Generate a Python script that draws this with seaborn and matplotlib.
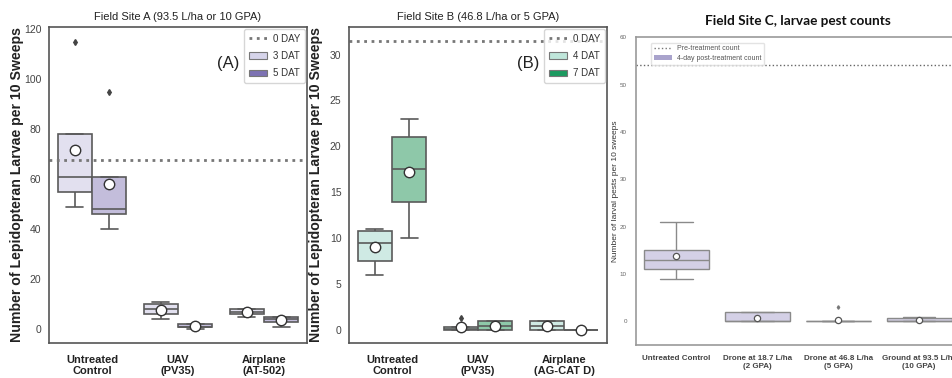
import numpy as np
import pandas as pd
import seaborn as sns
import matplotlib.pyplot as plt
from matplotlib.patches import Patch
from matplotlib.lines import Line2D

# ---------------- Datos ----------------
# Sitio A: conteos por tratamiento, 3 DAT y 5 DAT
trat_A = ['Untreated\nControl', 'UAV\n(PV35)', 'Airplane\n(AT-502)']
dias_A = ['3 DAT', '5 DAT']
a_3dat = [[49, 55, 61, 78, 115], [4, 6, 8, 10, 11], [5, 6, 7, 8, 8]]
a_5dat = [[40, 46, 48, 61, 95], [0, 1, 1, 2, 2], [1, 3, 4, 5, 5]]
dia0_A = 67.7

# Sitio B: 4 DAT y 7 DAT
trat_B = ['Untreated\nControl', 'UAV\n(PV35)', 'Airplane\n(AG-CAT D)']
dias_B = ['4 DAT', '7 DAT']
b_4dat = [[6, 7, 9, 10, 11, 11], [0, 0, 0, 0.3, 0.3, 1.3], [0, 0, 0, 1, 1, 1]]
b_7dat = [[10, 13, 17, 18, 22, 23], [0, 0, 0, 1, 1, 1], [0, 0, 0, 0, 0, 0]]
dia0_B = 31.45

# Sitio C: conteo 4 dias post-tratamiento
trat_C = ['Untreated Control', 'Drone at 18.7 L/ha\n(2 GPA)',
          'Drone at 46.8 L/ha\n(5 GPA)', 'Ground at 93.5 L/ha\n(10 GPA)']
c_4dia = [[9, 11, 13, 15, 21], [0, 0, 0, 0, 0, 0, 2, 2, 2],
          [0, 0, 0, 0, 0, 0, 0, 3], [0, 0, 0, 0, 1, 1]]
pre_C = 54.1


def largo(trats, dias, series):
    filas = []
    for dia, serie in zip(dias, series):
        for t, vals in zip(trats, serie):
            for v in vals:
                filas.append((t, dia, v))
    return pd.DataFrame(filas, columns=['trat', 'dia', 'valor'])


dfA = largo(trat_A, dias_A, [a_3dat, a_5dat])
dfB = largo(trat_B, dias_B, [b_4dat, b_7dat])
dfC = largo(trat_C, ['4-day'], [c_4dia])

sns.set_style('white')
narrow = ['Liberation Sans Narrow', 'Liberation Sans', 'DejaVu Sans']
plt.rcParams['font.family'] = ['Liberation Sans', 'DejaVu Sans']

fig = plt.figure(figsize=(9.52, 3.78), dpi=100)
axA = fig.add_axes([0.0515, 0.0926, 0.271, 0.836])
axB = fig.add_axes([0.3666, 0.0926, 0.271, 0.836])
axC = fig.add_axes([0.668, 0.0873, 0.340, 0.8135])

mean_big = dict(marker='o', markerfacecolor='white', markeredgecolor='#333333',
                markersize=7.5, markeredgewidth=1)
flier = dict(marker='d', markersize=3, markerfacecolor='#444444',
             markeredgecolor='#444444')

#------------ Paneles A y B -------------------------------------------
paneles = [(axA, dfA, trat_A, dias_A, ['#e2e0ef', '#c3bddb'], ['#d6d4ea', '#7d72b3'],
            dia0_A, (-5.5, 121), [0, 20, 40, 60, 80, 100, 120],
            'Field Site A (93.5 L/ha or 10 GPA)', '(A)', '0 DAY', -0.096),
           (axB, dfB, trat_B, dias_B, ['#cfeae4', '#8ec8a9'], ['#bfe6da', '#1b9a60'],
            dia0_B, (-1.4, 33), [0, 5, 10, 15, 20, 25, 30],
            'Field Site B (46.8 L/ha or 5 GPA)', '(B)', '0 DAY', -0.102)]

for ax, df, trats, dias, pal, pal_ley, d0, ylim, yt, titulo, letra, et0, xlab in paneles:
    sns.boxplot(data=df, x='trat', y='valor', hue='dia', order=trats, hue_order=dias,
                palette=pal, saturation=1, linecolor='#5a5a5a', linewidth=1.2,
                showmeans=True, meanprops=mean_big, flierprops=flier,
                width=0.8, gap=0, legend=False, ax=ax)
    ax.axhline(d0, color='#777777', linestyle=':', linewidth=2)
    ax.set_ylim(*ylim)
    ax.set_xlim(-0.5, 2.5)
    ax.set_yticks(yt)
    ax.tick_params(axis='y', labelsize=7.5, labelcolor='#444444', pad=2)
    ax.tick_params(axis='x', labelsize=8, pad=5)
    for lb in ax.get_yticklabels():
        lb.set_family(narrow)
    for lb in ax.get_xticklabels():
        lb.set_family(narrow)
        lb.set_fontweight('bold')
        lb.set_color('#222222')
    ax.set_xlabel('')
    ax.set_ylabel('Number of Lepidopteran Larvae per 10 Sweeps', fontsize=10.2,
                  fontweight='bold', color='#222222')
    ax.yaxis.set_label_coords(xlab, 0.5)
    ax.set_title(titulo, fontsize=8, family=narrow, color='#222222', pad=5)
    for s in ax.spines.values():
        s.set_color('#555555')
        s.set_linewidth(1.2)
    ax.text(0.696, 0.886, letra, transform=ax.transAxes, ha='center', va='center',
            fontsize=12, family=narrow, color='#222222')
    handles = [Line2D([0], [0], color='#777777', linestyle=':', linewidth=2),
               Patch(facecolor=pal_ley[0], edgecolor='#777777', linewidth=0.8),
               Patch(facecolor=pal_ley[1], edgecolor='#777777', linewidth=0.8)]
    leg = ax.legend(handles, [et0] + dias, loc='upper right',
                    prop={'family': narrow, 'size': 7}, handlelength=1.9,
                    handletextpad=0.6, borderaxespad=0.2, labelspacing=0.75,
                    borderpad=0.5, frameon=True)
    leg.get_frame().set_edgecolor('#cccccc')
    for t in leg.get_texts():
        t.set_color('#333333')

#------------ Panel C -------------------------------------------------
sns.boxplot(data=dfC, x='trat', y='valor', order=trat_C, color='#d4d0e6',
            saturation=1, linecolor='#8a8a8a', linewidth=1.0, showmeans=True,
            meanprops=dict(marker='o', markerfacecolor='white', markeredgecolor='#555555',
                           markersize=4.5, markeredgewidth=0.9),
            flierprops=dict(marker='d', markersize=1.8, markerfacecolor='#777777',
                            markeredgecolor='#777777'),
            width=0.8, ax=axC)
axC.axhline(pre_C, color='#666666', linestyle=':', linewidth=1)
axC.set_ylim(-5, 60)
axC.set_xlim(-0.5, 3.5)
axC.set_yticks([0, 10, 20, 30, 40, 50, 60])
axC.tick_params(axis='y', labelsize=4.5, labelcolor='#666666', pad=3)
axC.tick_params(axis='x', labelsize=5.8, labelcolor='#444444', pad=4)
for lb in axC.get_xticklabels():
    lb.set_fontweight('bold')
axC.set_xlabel('')
axC.set_ylabel('Number of larval pests per 10 sweeps', fontsize=6, color='#333333')
axC.yaxis.set_label_coords(-0.052, 0.5)
axC.set_title('Field Site C, larvae pest counts', fontsize=9.8, fontweight='bold',
              family=['Lato', 'DejaVu Sans'], color='#111111', pad=9)
for s in axC.spines.values():
    s.set_color('#999999')
    s.set_linewidth(1.2)
hC = [Line2D([0], [0], color='#777777', linestyle=':', linewidth=1),
      Patch(facecolor='#a9a3cc', edgecolor='none')]
legC = axC.legend(hC, ['Pre-treatment count', '4-day post-treatment count'],
                  loc='upper left', fontsize=5, handlelength=2.6,
                  bbox_to_anchor=(0.035, 0.995), labelspacing=0.4)
legC.get_frame().set_edgecolor('#dddddd')
for t in legC.get_texts():
    t.set_color('#555555')

plt.savefig('out.png', dpi=100)
